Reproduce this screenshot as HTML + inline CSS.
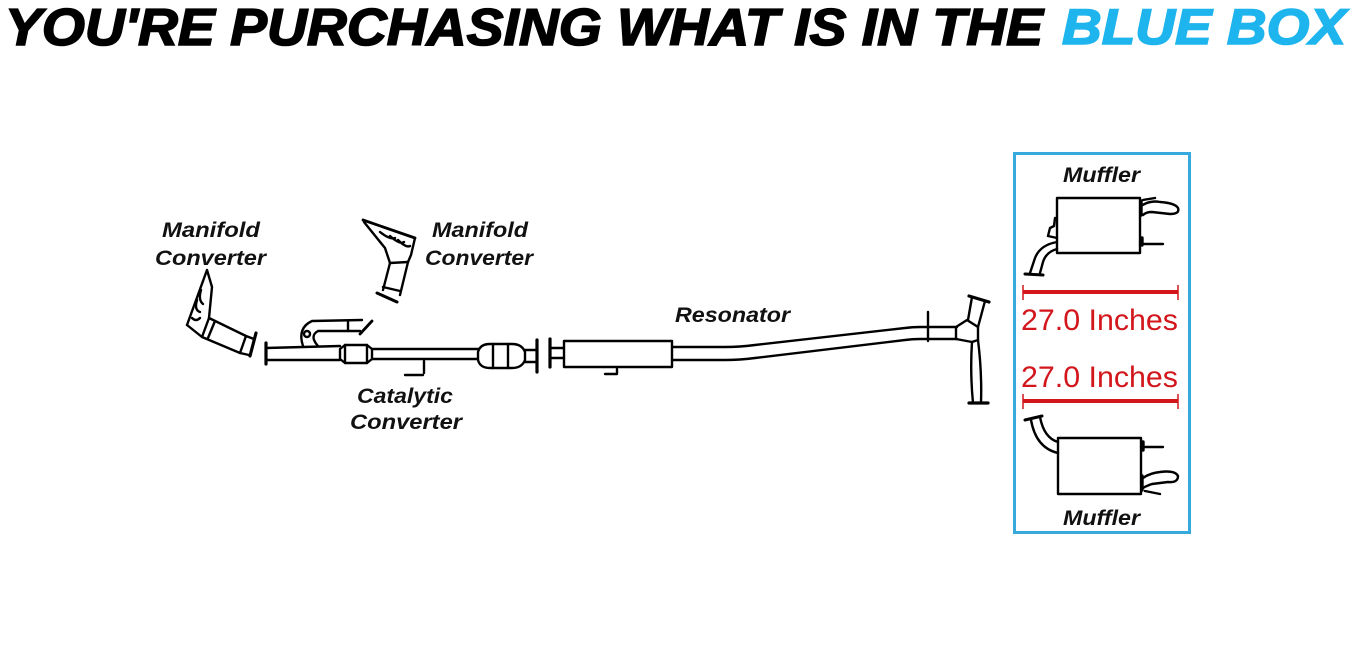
<!DOCTYPE html>
<html>
<head>
<meta charset="utf-8">
<style>
  html, body { margin:0; padding:0; background:#fff; }
  body { width:1361px; height:661px; overflow:hidden; }
  svg { display:block; }
  .t { font-family:"Liberation Sans", Arial, sans-serif; font-weight:bold; font-style:italic; }
  .lbl { font-family:"Liberation Sans", Arial, sans-serif; font-weight:bold; font-style:italic; font-size:21px; fill:#111; }
  .red { font-family:"Liberation Sans", Arial, sans-serif; font-size:30px; fill:#d2161c; }
</style>
</head>
<body>
<svg width="1361" height="661" viewBox="0 0 1361 661" xmlns="http://www.w3.org/2000/svg">
  <rect x="0" y="0" width="1361" height="661" fill="#fff"/>

  <!-- Title -->
  <text class="t" x="5" y="45" font-size="52" fill="#000" stroke="#000" stroke-width="1.6" textLength="1038" lengthAdjust="spacingAndGlyphs">YOU'RE PURCHASING WHAT IS IN THE</text>
  <text class="t" x="1062" y="44" font-size="50" fill="#1eb4ee" stroke="#1eb4ee" stroke-width="1.6" textLength="284" lengthAdjust="spacingAndGlyphs">BLUE BOX</text>

  <!-- Labels -->
  <text class="lbl" x="162" y="237" textLength="98" lengthAdjust="spacingAndGlyphs">Manifold</text>
  <text class="lbl" x="155" y="265" textLength="111" lengthAdjust="spacingAndGlyphs">Converter</text>
  <text class="lbl" x="432" y="237" textLength="96" lengthAdjust="spacingAndGlyphs">Manifold</text>
  <text class="lbl" x="425" y="265" textLength="108" lengthAdjust="spacingAndGlyphs">Converter</text>
  <text class="lbl" x="357" y="403" textLength="96" lengthAdjust="spacingAndGlyphs">Catalytic</text>
  <text class="lbl" x="350" y="429" textLength="112" lengthAdjust="spacingAndGlyphs">Converter</text>
  <text class="lbl" x="675" y="322" textLength="115" lengthAdjust="spacingAndGlyphs">Resonator</text>

  <g fill="none" stroke="#000" stroke-width="2.4" stroke-linejoin="round" stroke-linecap="round">
    <!-- Left manifold converter -->
    <path d="M187,325 L207,270 L212,287 L209,318"/>
    <path d="M187,325 L202,337"/>
    <path d="M197,300 Q194,310 200,312 M201,290 Q198,300 203,304 M192,318 Q196,322 200,318"/>
    <path d="M209,318 L246,336 L240,353 L202,337 Z"/>
    <path d="M215,321 L208,338"/>
    <path d="M246,336 L254,339 M240,353 L249,355"/>
    <path d="M256,333 L250,356" stroke-width="3.2"/>

    <!-- Right manifold converter -->
    <path d="M363,220 L415,238" stroke-width="2.8"/>
    <path d="M364,222 L385,248 L390,263"/>
    <path d="M415,238 L411,255 L408,262"/>
    <path d="M380,232 Q390,240 395,238 M390,236 Q400,245 404,242 M398,240 Q406,248 410,246"/>
    <path d="M390,263 L408,262"/>
    <path d="M390,263 L383,290 M408,262 L400,295"/>
    <path d="M383,287 L400,291"/>
    <path d="M377,293 L397,302" stroke-width="3"/>

    <!-- Left flange and first pipe -->
    <path d="M266,343 L266,364" stroke-width="3.2"/>
    <path d="M266,348 L340,346 M266,360 L340,360"/>

    <!-- J-hook pipe -->
    <path d="M303,346 Q297,328 312,321 L362,320"/>
    <path d="M318,346 Q309,336 318,331 L360,331"/>
    <path d="M348,321 L348,331"/>
    <circle cx="307" cy="334" r="3"/>
    <path d="M372,321 L360,334" stroke-width="2.8"/>

    <!-- Small cat -->
    <path d="M340,349 L345,345 L367,345 L372,349 L372,359 L367,363 L345,363 L340,359 Z"/>
    <path d="M345,345 L345,363 M367,345 L367,363"/>

    <!-- Middle pipe -->
    <path d="M372,349 L478,349 M372,359 L478,359"/>
    <path d="M424,361 L424,373 M405,375 L423,375"/>

    <!-- Big cat -->
    <path d="M478,352 Q480,344 490,344 L512,344 Q522,344 525,352 L525,360 Q522,368 512,368 L490,368 Q480,368 478,360 Z"/>
    <path d="M493,344 L493,368 M508,344 L508,368"/>
    <path d="M525,350 L537,350 M525,362 L537,362"/>
    <path d="M537,340 L537,372" stroke-width="3.2"/>
    <path d="M550,339 L550,367" stroke-width="3.2"/>
    <path d="M550,348 L564,348 M550,358 L564,358"/>

    <!-- Resonator -->
    <rect x="564" y="341" width="108" height="26"/>
    <path d="M605,374 L617,374 L617,369"/>

    <!-- Long pipe -->
    <path d="M672,347 L725,347 Q740,347 755,345 L905,328 Q912,327 920,327 L957,327"/>
    <path d="M672,360 L725,360 Q740,360 755,358 L905,340 Q912,339 920,339 L957,339"/>
    <path d="M928,312 L928,341"/>

    <!-- Y junction -->
    <path d="M956,327 L967,320 L978,327 L978,340 L972,342 L956,339 Z"/>
    <path d="M968,320 L972,297 M978,327 L985,301"/>
    <path d="M969,296 L989,302" stroke-width="3.2"/>
    <path d="M972,342 Q970,372 973,403 M978,340 Q982,372 981,403"/>
    <path d="M969,403 L988,403" stroke-width="3.2"/>

    <!-- Top muffler -->
    <rect x="1057" y="198" width="83" height="55"/>
    <path d="M1143,200 L1155,198"/>
    <path d="M1141,206 Q1150,200 1160,202 Q1175,203 1178,208 Q1180,214 1170,214 L1152,212 Q1146,212 1143,215"/>
    <path d="M1141,201 L1141,215" stroke-width="3.4"/>
    <path d="M1140,244 L1163,244"/>
    <path d="M1142,238 L1142,245" stroke-width="3.4"/>
    <path d="M1057,242 Q1040,245 1035,258 L1030,273"/>
    <path d="M1057,249 Q1046,252 1043,262 L1040,273"/>
    <path d="M1025,274 L1043,275" stroke-width="3"/>
    <path d="M1057,238 L1048,236 L1050,228 L1054,226 L1055,218"/>

    <!-- Bottom muffler -->
    <rect x="1058" y="438" width="83" height="56"/>
    <path d="M1031,420 Q1036,448 1058,453"/>
    <path d="M1040,417 Q1044,438 1058,442"/>
    <path d="M1025,420 L1042,416" stroke-width="3"/>
    <path d="M1141,447 L1163,447"/>
    <path d="M1143,442 L1143,450" stroke-width="3.4"/>
    <path d="M1143,478 Q1150,473 1160,472 Q1175,470 1178,476 Q1178,483 1168,482 L1152,484 Q1146,486 1143,488"/>
    <path d="M1142,476 L1142,490" stroke-width="3.4"/>
    <path d="M1145,491 L1160,494"/>
  </g>

  <!-- Blue box -->
  <rect x="1014.5" y="153.5" width="175" height="379" fill="none" stroke="#38a9dd" stroke-width="3"/>

  <text class="lbl" x="1063" y="182" textLength="77" lengthAdjust="spacingAndGlyphs">Muffler</text>
  <text class="lbl" x="1063" y="525" textLength="77" lengthAdjust="spacingAndGlyphs">Muffler</text>

  <!-- Red dimension lines -->
  <g stroke="#d2161c">
    <path d="M1023,292 L1178,292" stroke-width="4"/>
    <path d="M1023,285 L1023,300 M1178,285 L1178,300" stroke-width="1.5"/>
    <path d="M1023,401 L1178,401" stroke-width="4"/>
    <path d="M1023,394 L1023,409 M1178,394 L1178,409" stroke-width="1.5"/>
  </g>
  <text class="red" x="1021" y="330" textLength="157" lengthAdjust="spacingAndGlyphs">27.0 Inches</text>
  <text class="red" x="1021" y="387" textLength="157" lengthAdjust="spacingAndGlyphs">27.0 Inches</text>
</svg>
</body>
</html>
